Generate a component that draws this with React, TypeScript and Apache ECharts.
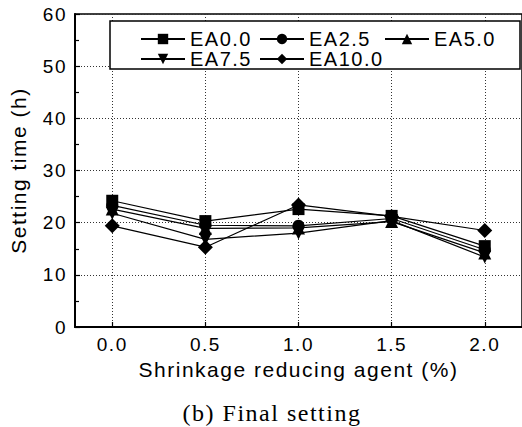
import React, { useEffect, useRef } from "react";
import * as echarts from "echarts";

const xValues = [0.0, 0.5, 1.0, 1.5, 2.0];
const xTicks = [0.0, 0.5, 1.0, 1.5, 2.0];
const yMinorTicks = [5, 15, 25, 35, 45, 55];
const seriesNames = ["EA0.0", "EA2.5", "EA5.0", "EA7.5", "EA10.0"];
const ea00 = [24.2, 20.3, 22.6, 21.3, 15.5];
const ea25 = [23.3, 19.5, 19.4, 20.8, 14.8];
const ea50 = [22.6, 18.9, 19.0, 20.2, 14.2];
const ea75 = [21.8, 16.8, 18.0, 20.4, 13.4];
const ea100 = [19.4, 15.3, 23.4, 21.2, 18.5];
const xName = "Shrinkage reducing agent (%)";
const yName = "Setting time (h)";
const caption = "(b) Final setting";

const FONT = "'Liberation Sans', Arial, sans-serif";

export default function App() {
  const ref = useRef<HTMLDivElement>(null);
  useEffect(() => {
    if (!ref.current) return;
    const chart = echarts.init(ref.current, null, { renderer: "svg" });
    const allData = [ea00, ea25, ea50, ea75, ea100];
    const symbols = ["rect", "circle", "triangle", "triangle", "diamond"];
    const sizes = [12, 12, 13, 13, 15];
    const rotates = [0, 0, 0, 180, 0];
    const series: any[] = seriesNames.map((name, i) => ({
      name,
      type: "line",
      data: xValues.map((x, j) => [x, allData[i][j]]),
      symbol: symbols[i],
      symbolSize: sizes[i],
      symbolRotate: rotates[i],
      showAllSymbol: true,
      lineStyle: { color: "#000", width: 1.2 },
      itemStyle: { color: "#000" },
      z: 10,
    }));
    const legendPos = [
      { left: 140, top: 29 },
      { left: 259, top: 29 },
      { left: 384, top: 29 },
      { left: 140, top: 49 },
      { left: 259, top: 49 },
    ];
    const legends = seriesNames.map((name, i) => ({
      data: [name],
      left: legendPos[i].left,
      top: legendPos[i].top,
      padding: 0,
      itemWidth: 44,
      itemHeight: 13,
      z: 20,
      textStyle: { fontFamily: FONT, fontSize: 20, color: "#000" },
      selectedMode: false,
    }));
    chart.setOption({
      animation: false,
      backgroundColor: "#fff",
      grid: {
        left: 74,
        top: 14,
        right: -5,
        bottom: 100,
        show: true,
        borderColor: "#000",
        borderWidth: 1.5,
        backgroundColor: "transparent",
      },
      legend: legends,
      xAxis: {
        type: "value",
        min: -0.2,
        max: 2.2,
        name: xName,
        nameLocation: "middle",
        nameGap: 30,
        nameTextStyle: { fontFamily: FONT, fontSize: 21, color: "#000" },
        axisLine: { show: true, onZero: false, lineStyle: { color: "#000", width: 2 } },
        axisTick: {
          show: true,
          inside: true,
          length: 5,
          customValues: xTicks,
          lineStyle: { color: "#000", width: 1.2 },
        },
        axisLabel: {
          customValues: xTicks,
          formatter: (v: number) => v.toFixed(1),
          margin: 8,
          fontFamily: FONT,
          fontSize: 19,
          color: "#000",
        },
        splitLine: {
          show: true,
          lineStyle: { color: "#333", type: [1, 2], width: 1 },
        },
      },
      yAxis: [
        {
          type: "value",
          min: 0,
          max: 60,
          interval: 10,
          name: yName,
          nameLocation: "middle",
          nameRotate: 90,
          nameGap: 46,
          nameTextStyle: { fontFamily: FONT, fontSize: 21, color: "#000" },
          axisLine: { show: true, onZero: false, lineStyle: { color: "#000", width: 2 } },
          axisTick: {
            show: true,
            inside: true,
            length: 5,
            lineStyle: { color: "#000", width: 1.2 },
          },
          axisLabel: {
            margin: 8,
            fontFamily: FONT,
            fontSize: 19,
            color: "#000",
          },
          splitLine: {
            show: true,
            lineStyle: { color: "#333", type: [1, 2], width: 1 },
          },
        },
        {
          type: "value",
          min: 0,
          max: 60,
          position: "left",
          axisLine: { show: false, onZero: false },
          axisTick: {
            show: true,
            inside: true,
            length: 4,
            customValues: yMinorTicks,
            lineStyle: { color: "#000", width: 1.2 },
          },
          axisLabel: { show: false },
          splitLine: { show: false },
        },
      ],
      graphic: [
        {
          type: "rect",
          z: 15,
          shape: { x: 110, y: 21, width: 410, height: 48 },
          style: { fill: "#fff", stroke: "#000", lineWidth: 1.5 },
        },
        {
          type: "text",
          z: 15,
          x: 272,
          y: 413,
          style: {
            text: caption,
            fontFamily: "'Liberation Serif', 'Times New Roman', serif",
            fontSize: 24,
            fill: "#000",
            align: "center",
            verticalAlign: "middle",
          },
        },
      ],
      series,
    });
    return () => chart.dispose();
  }, []);
  return (
    <>
      <style>{"#chart-root text { letter-spacing: 1.5px; }"}</style>
      <div
        id="chart-root"
        ref={ref}
        style={{ position: "absolute", left: 0, top: 0, width: 522, height: 427 }}
      />
    </>
  );
}
